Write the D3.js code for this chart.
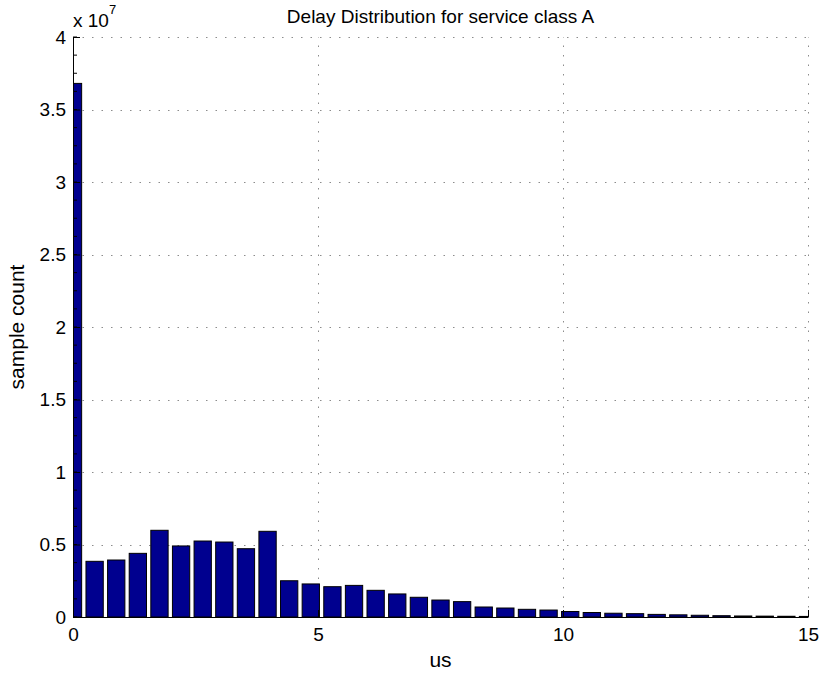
<!DOCTYPE html>
<html>
<head>
<meta charset="utf-8">
<script src="https://cdn.jsdelivr.net/npm/d3@7"></script>
<style>
  html, body { margin: 0; padding: 0; background: #fff; }
  svg { display: block; font-family: "Liberation Sans", Arial, Helvetica, sans-serif; }
</style>
</head>
<body>
<svg id="chart" width="822" height="673"></svg>
<script>
// Histogram of delays (us): 35 bins evenly spread over 0..15, counts in units of 1e7
const binCount = 35;
const xMax = 15;
const counts = [
  3.68, 0.384, 0.393, 0.439, 0.598, 0.490, 0.524, 0.517, 0.471, 0.591,
  0.250, 0.228, 0.209, 0.218, 0.184, 0.159, 0.136, 0.117, 0.106, 0.069,
  0.062, 0.053, 0.048, 0.038, 0.031, 0.026, 0.023, 0.018, 0.015, 0.012,
  0.009, 0.007, 0.006, 0.005, 0.004
];
const binCenters = d3.range(binCount).map(i => i * xMax / (binCount - 1));
const xTicks = [0, 5, 10, 15];
const yTicks = [0, 0.5, 1, 1.5, 2, 2.5, 3, 3.5, 4];
const yMinorTicks = d3.range(0, 4.0001, 0.125);
const titleText = "Delay Distribution for service class A";
const xLabel = "us";
const yLabel = "sample count";

const fontSize = 19;
const labelSize = 21;
const svg = d3.select("#chart");
const plot = { left: 73, right: 808, top: 37, bottom: 617 };

const x = d3.scaleLinear().domain([0, xMax]).range([plot.left, plot.right]);
const y = d3.scaleLinear().domain([0, 4]).range([plot.bottom, plot.top]);

const spacing = x(binCenters[1]) - x(binCenters[0]);
const barW = spacing * 0.8;

// clip bars to the axes box
svg.append("defs").append("clipPath").attr("id", "plotClip")
  .append("rect")
  .attr("x", plot.left).attr("y", plot.top)
  .attr("width", plot.right - plot.left).attr("height", plot.bottom - plot.top);

// dotted grid
const grid = svg.append("g").attr("stroke", "#8c8c8c").attr("stroke-width", 1)
  .attr("stroke-dasharray", "1.5,8").attr("fill", "none");
yTicks.filter(t => t > 0).forEach(t => {
  grid.append("line").attr("x1", plot.left).attr("x2", plot.right)
    .attr("y1", Math.round(y(t)) + 0.5).attr("y2", Math.round(y(t)) + 0.5);
});
xTicks.filter(t => t > 0).forEach(t => {
  grid.append("line").attr("y1", plot.bottom).attr("y2", plot.top)
    .attr("x1", Math.round(x(t)) + 0.5).attr("x2", Math.round(x(t)) + 0.5);
});

// bars
svg.append("g").attr("clip-path", "url(#plotClip)")
  .selectAll("rect").data(counts).join("rect")
  .attr("x", (d, i) => x(binCenters[i]) - barW / 2)
  .attr("width", barW)
  .attr("y", d => y(d))
  .attr("height", d => y(0) - y(d))
  .attr("fill", "#00008f")
  .attr("stroke", "#000")
  .attr("stroke-width", 1);

// axes (ticks point inward)
const xAxis = d3.axisBottom(x).tickValues(xTicks).tickFormat(d3.format("d"))
  .tickSizeInner(-7).tickSizeOuter(0).tickPadding(11);
const gx = svg.append("g").attr("transform", `translate(0,${plot.bottom})`).call(xAxis);

const yAxis = d3.axisLeft(y).tickValues(yTicks).tickFormat(d => d3.format("")(d))
  .tickSizeInner(-7).tickSizeOuter(0).tickPadding(7);
const gy = svg.append("g").attr("transform", `translate(${plot.left},0)`).call(yAxis);

// y minor ticks
gy.selectAll(".minor").data(yMinorTicks).join("line").attr("class", "minor")
  .attr("x1", 0).attr("x2", 4).attr("y1", d => y(d)).attr("y2", d => y(d))
  .attr("stroke", "#000");

[gx, gy].forEach(g => {
  g.select(".domain").attr("stroke", "#000");
  g.selectAll(".tick line").attr("stroke", "#000");
  g.selectAll("text").attr("font-size", fontSize).attr("fill", "#000")
    .attr("font-family", "'Liberation Sans', Arial, Helvetica, sans-serif");
});

// exponent label
const expo = svg.append("text").attr("x", plot.left).attr("y", 27)
  .attr("font-size", fontSize).attr("fill", "#000");
expo.append("tspan").text("x 10");
expo.append("tspan").attr("dy", -13).attr("font-size", 13).text("7");

// title and axis labels
svg.append("text").attr("x", (plot.left + plot.right) / 2).attr("y", 23)
  .attr("text-anchor", "middle").attr("font-size", fontSize).attr("fill", "#000").text(titleText);
svg.append("text").attr("x", (plot.left + plot.right) / 2).attr("y", 667)
  .attr("text-anchor", "middle").attr("font-size", labelSize).attr("fill", "#000").text(xLabel);
svg.append("text").attr("transform", `translate(24,${(plot.top + plot.bottom) / 2}) rotate(-90)`)
  .attr("text-anchor", "middle").attr("font-size", labelSize).attr("fill", "#000").text(yLabel);
</script>
</body>
</html>
